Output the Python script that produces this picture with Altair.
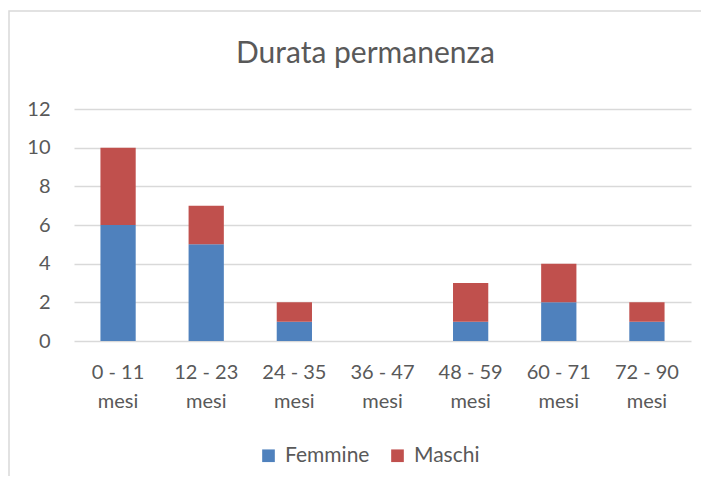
import altair as alt
import pandas as pd

categories = ["0 - 11 mesi", "12 - 23 mesi", "24 - 35 mesi", "36 - 47 mesi",
              "48 - 59 mesi", "60 - 71 mesi", "72 - 90 mesi"]
femmine = [6, 5, 1, 0, 1, 2, 1]
maschi = [4, 2, 1, 0, 2, 2, 1]
series = ["Femmine", "Maschi"]
colors = ["#4F81BD", "#C0504D"]

rows = []
for c, f, m in zip(categories, femmine, maschi):
    rows.append({"cat": c, "serie": "Femmine", "val": f, "ord": 0})
    rows.append({"cat": c, "serie": "Maschi", "val": m, "ord": 1})
df = pd.DataFrame(rows)

FONT = "Lato"
GRAY = "#595959"

bars = alt.Chart(df).mark_bar(strokeWidth=0).encode(
    x=alt.X("cat:N", sort=categories,
            scale=alt.Scale(paddingInner=0.6, paddingOuter=0.3),
            axis=alt.Axis(title=None, labelAngle=0, ticks=False, domain=False,
                          labelExpr="[replace(datum.label, ' mesi', ''), 'mesi']",
                          labelLineHeight=29, labelPadding=21,
                          labelFont=FONT, labelFontSize=20, labelColor=GRAY)),
    y=alt.Y("val:Q", stack="zero",
            scale=alt.Scale(domain=[0, 12]),
            axis=alt.Axis(title=None, values=[0, 2, 4, 6, 8, 10, 12], ticks=False,
                          domain=False, labelPadding=24, gridColor="#d9d9d9",
                          gridWidth=1.3,
                          labelFont=FONT, labelFontSize=20, labelColor=GRAY)),
    color=alt.Color("serie:N", scale=alt.Scale(domain=series, range=colors),
                    legend=alt.Legend(title=None, orient="none", direction="horizontal",
                                      legendX=184, legendY=336, symbolType="square",
                                      symbolSize=160, symbolStrokeWidth=0,
                                      labelFont=FONT, labelFontSize=21,
                                      labelColor=GRAY, columnPadding=17,
                                      labelOffset=6)),
    order=alt.Order("ord:Q"),
)

border = alt.Chart(pd.DataFrame({"a": [0]})).mark_rect(
    fill=None, stroke="#d9d9d9", strokeWidth=1.5).encode(
    x=alt.value(-65), x2=alt.value(700), y=alt.value(-98), y2=alt.value(500))

chart = alt.layer(border, bars).properties(
    width=617, height=232,
    title=alt.TitleParams("Durata permanenza", font=FONT, fontSize=30,
                          fontWeight="normal", color=GRAY, dx=-17, offset=-83,
                          baseline="alphabetic"),
    autosize=alt.AutoSizeParams(type="none"),
    padding={"left": 66, "top": 101, "right": 10, "bottom": 135},
).configure_view(stroke=None)

chart.save("out.html", embed_options={"renderer": "svg", "actions": False})
